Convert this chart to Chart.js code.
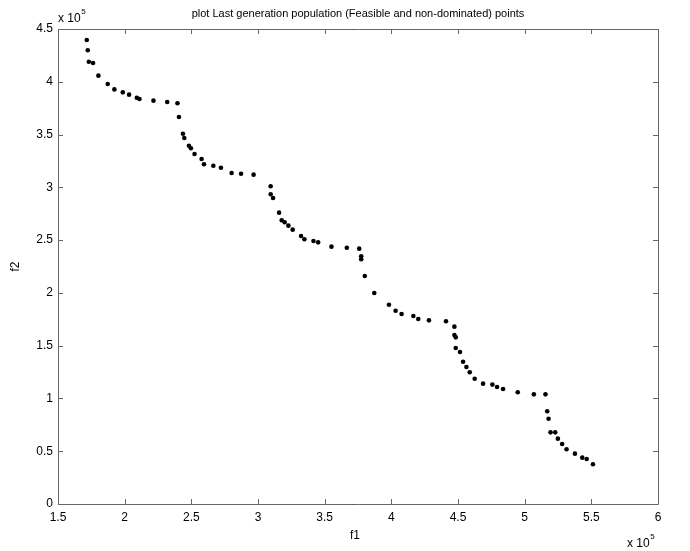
<!DOCTYPE html>
<html>
<head>
<meta charset="utf-8">
<script src="https://cdn.jsdelivr.net/npm/chart.js@4.4.1/dist/chart.umd.min.js"></script>
<style>
    html, body { margin: 0; padding: 0; background: #fff; }
    #wrap { width: 690px; height: 551px; }
</style>
</head>
<body>
<div id="wrap"><canvas id="paretoChart" width="690" height="551"></canvas></div>
<script>
// values in units of 10^5
const f1 = [
    1.716, 1.723, 1.731, 1.763, 1.803, 1.873, 1.923, 1.986, 2.033, 2.091,
    2.111, 2.216, 2.319, 2.396, 2.407, 2.437, 2.447, 2.482, 2.497, 2.524,
    2.577, 2.595, 2.665, 2.722, 2.802, 2.873, 2.967, 3.095, 3.095, 3.113,
    3.158, 3.178, 3.200, 3.228, 3.260, 3.323, 3.348, 3.416, 3.451, 3.551,
    3.666, 3.759, 3.774, 3.774, 3.801, 3.872, 3.982, 4.032, 4.077, 4.165,
    4.202, 4.282, 4.410, 4.473, 4.473, 4.483, 4.483, 4.515, 4.538, 4.563,
    4.588, 4.625, 4.688, 4.758, 4.793, 4.838, 4.948, 5.069, 5.156, 5.169,
    5.179, 5.194, 5.229, 5.249, 5.281, 5.314, 5.377, 5.432, 5.465, 5.512
];
const f2 = [
    4.396, 4.298, 4.190, 4.178, 4.058, 3.979, 3.928, 3.900, 3.878, 3.849,
    3.837, 3.821, 3.808, 3.796, 3.666, 3.508, 3.467, 3.394, 3.370, 3.316,
    3.268, 3.218, 3.205, 3.186, 3.136, 3.129, 3.120, 3.010, 2.934, 2.899,
    2.760, 2.688, 2.669, 2.637, 2.599, 2.539, 2.508, 2.491, 2.479, 2.438,
    2.428, 2.419, 2.347, 2.318, 2.160, 1.999, 1.888, 1.831, 1.800, 1.781,
    1.753, 1.740, 1.731, 1.680, 1.601, 1.579, 1.478, 1.440, 1.348, 1.298,
    1.248, 1.187, 1.140, 1.131, 1.108, 1.089, 1.058, 1.039, 1.039, 0.878,
    0.808, 0.679, 0.679, 0.619, 0.568, 0.518, 0.477, 0.439, 0.426, 0.376
];
const xTicks = [1.5, 2, 2.5, 3, 3.5, 4, 4.5, 5, 5.5, 6];
const yTicks = [0, 0.5, 1, 1.5, 2, 2.5, 3, 3.5, 4, 4.5];

const titleText = "plot Last generation population (Feasible and non-dominated) points";
const axisColor = "#666666";
const fontFamily = "Arial, 'Liberation Sans', sans-serif";

const points = f1.map((x, i) => ({ x: x, y: f2[i] }));

// "x 10^5" with a small raised exponent
function drawExponent(ctx, x, y) {
    ctx.font = "12px " + fontFamily;
    ctx.fillText("x 10", x, y);
    const w = ctx.measureText("x 10").width;
    ctx.font = "8px " + fontFamily;
    ctx.fillText("5", x + w + 0.5, y - 7);
}

// box, inward ticks, titles and the exponent labels (MATLAB look)
const matlabFrame = {
    id: "matlabFrame",
    afterDraw(chart) {
        const { ctx, chartArea: a, scales } = chart;
        const xs = scales.x, ys = scales.y;
        ctx.save();
        ctx.strokeStyle = axisColor;
        ctx.lineWidth = 1;
        ctx.beginPath();
        ctx.rect(a.left + 0.5, a.top + 0.5, a.right - a.left, a.bottom - a.top);
        ctx.stroke();

        ctx.beginPath();
        xTicks.forEach((t) => {
            const px = Math.round(xs.getPixelForValue(t)) + 0.5;
            ctx.moveTo(px, a.bottom); ctx.lineTo(px, a.bottom - 5);
            ctx.moveTo(px, a.top); ctx.lineTo(px, a.top + 5);
        });
        yTicks.forEach((t) => {
            const py = Math.round(ys.getPixelForValue(t)) + 0.5;
            ctx.moveTo(a.left, py); ctx.lineTo(a.left + 5, py);
            ctx.moveTo(a.right, py); ctx.lineTo(a.right - 5, py);
        });
        ctx.stroke();

        ctx.fillStyle = "#000";
        ctx.textAlign = "center";
        ctx.textBaseline = "middle";
        ctx.font = "11px " + fontFamily;
        ctx.fillText(titleText, (a.left + a.right) / 2, 14);

        ctx.font = "12px " + fontFamily;
        ctx.fillText("f1", (a.left + a.right) / 2 - 3, 536);
        ctx.save();
        ctx.translate(16, (a.top + a.bottom) / 2);
        ctx.rotate(-Math.PI / 2);
        ctx.fillText("f2", 0, 0);
        ctx.restore();

        ctx.textAlign = "left";
        drawExponent(ctx, 58, 19);
        drawExponent(ctx, 627, 544);
        ctx.restore();
    }
};

new Chart(document.getElementById("paretoChart").getContext("2d"), {
    type: "scatter",
    data: {
        datasets: [{
            data: points,
            backgroundColor: "#000",
            borderColor: "#000",
            pointRadius: 2.3,
            pointHoverRadius: 2.3,
            borderWidth: 0
        }]
    },
    options: {
        responsive: false,
        animation: false,
        events: [],
        layout: { padding: { top: 29, right: 32, left: 0, bottom: 0 } },
        plugins: {
            legend: { display: false },
            tooltip: { enabled: false }
        },
        scales: {
            x: {
                type: "linear",
                min: 1.5,
                max: 6,
                afterBuildTicks: (scale) => { scale.ticks = xTicks.map((v) => ({ value: v })); },
                afterFit: (scale) => { scale.height = 47; },
                grid: { display: false, drawTicks: false },
                border: { display: false },
                ticks: {
                    padding: 6,
                    color: "#000",
                    font: { family: fontFamily, size: 12 },
                    maxRotation: 0,
                    callback: (v) => String(v)
                }
            },
            y: {
                type: "linear",
                min: 0,
                max: 4.5,
                afterBuildTicks: (scale) => { scale.ticks = yTicks.map((v) => ({ value: v })); },
                afterFit: (scale) => { scale.width = 58; },
                grid: { display: false, drawTicks: false },
                border: { display: false },
                ticks: {
                    padding: 5,
                    color: "#000",
                    font: { family: fontFamily, size: 12 },
                    callback: (v) => String(v)
                }
            }
        }
    },
    plugins: [matlabFrame]
});
</script>
</body>
</html>
